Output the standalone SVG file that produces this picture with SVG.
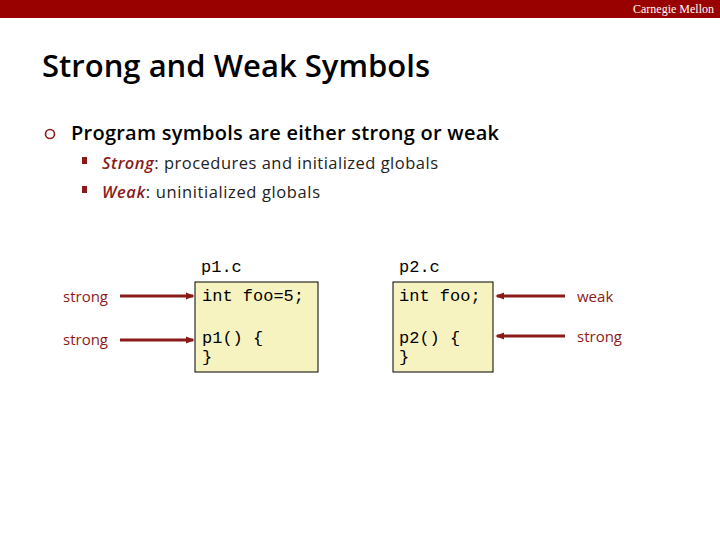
<svg xmlns="http://www.w3.org/2000/svg" width="720" height="540" viewBox="0 0 720 540">
<style>
.t{font-family:"Open Sans","Noto Sans",sans-serif}
.m{font-family:"Liberation Mono","DejaVu Sans Mono",monospace;font-size:17px;fill:#000}
.lab{font-family:"Open Sans","Noto Sans",sans-serif;font-size:15px;fill:#8b1a1a}
.box{fill:#f7f3c0;stroke:#000;stroke-width:1}
.ar{stroke:#8b1a1a;stroke-width:3;fill:none;marker-end:url(#ah)}
</style>
<defs><marker id="ah" viewBox="0 0 10 10" refX="8" refY="5" markerWidth="3" markerHeight="3" orient="auto"><path d="M0,1 L10,5 L0,9 z" fill="#8b1a1a"/></marker></defs>
<rect x="0" y="0" width="720" height="18" fill="#990000"/>
<text x="714" y="13" text-anchor="end" font-family="Liberation Serif,serif" font-size="12" fill="#fff">Carnegie Mellon</text>
<text class="t" x="42" y="77" font-size="31" font-weight="600" fill="#000" textLength="388">Strong and Weak Symbols</text>
<circle cx="50" cy="134" r="4.5" fill="none" stroke="#8b1a1a" stroke-width="1.6"/>
<text class="t" x="71" y="140" font-size="20" font-weight="600" fill="#000" textLength="428">Program symbols are either strong or weak</text>
<rect x="82" y="157" width="5" height="7" fill="#8b1a1a"/>
<text class="t" x="102" y="169" font-size="16.5" fill="#222" textLength="336"><tspan fill="#8b1a1a" font-style="italic" font-weight="600">Strong</tspan>: procedures and initialized globals</text>
<rect x="82" y="186" width="5" height="7" fill="#8b1a1a"/>
<text class="t" x="102" y="198" font-size="16.5" fill="#222" textLength="218"><tspan fill="#8b1a1a" font-style="italic" font-weight="600">Weak</tspan>: uninitialized globals</text>
<g id="p1">
<text class="m" x="201" y="272">p1.c</text>
<rect class="box" x="195" y="282" width="123" height="90"/>
<text class="m" x="202" y="301">int foo=5;</text>
<text class="m" x="202" y="343">p1() {</text>
<text class="m" x="202" y="362">}</text>
</g>
<g id="p2">
<text class="m" x="399" y="272">p2.c</text>
<rect class="box" x="393" y="282" width="100" height="90"/>
<text class="m" x="399" y="301">int foo;</text>
<text class="m" x="399" y="343">p2() {</text>
<text class="m" x="399" y="362">}</text>
</g>
<g id="labels">
<text class="lab" x="63" y="302">strong</text>
<text class="lab" x="63" y="345">strong</text>
<text class="lab" x="577" y="302">weak</text>
<text class="lab" x="577" y="342">strong</text>
</g>
<g id="connectors">
<line class="ar" x1="120" y1="296" x2="193" y2="296"/>
<line class="ar" x1="120" y1="340" x2="193" y2="340"/>
<line class="ar" x1="565" y1="296" x2="497" y2="296"/>
<line class="ar" x1="565" y1="336" x2="497" y2="336"/>
</g>
</svg>
